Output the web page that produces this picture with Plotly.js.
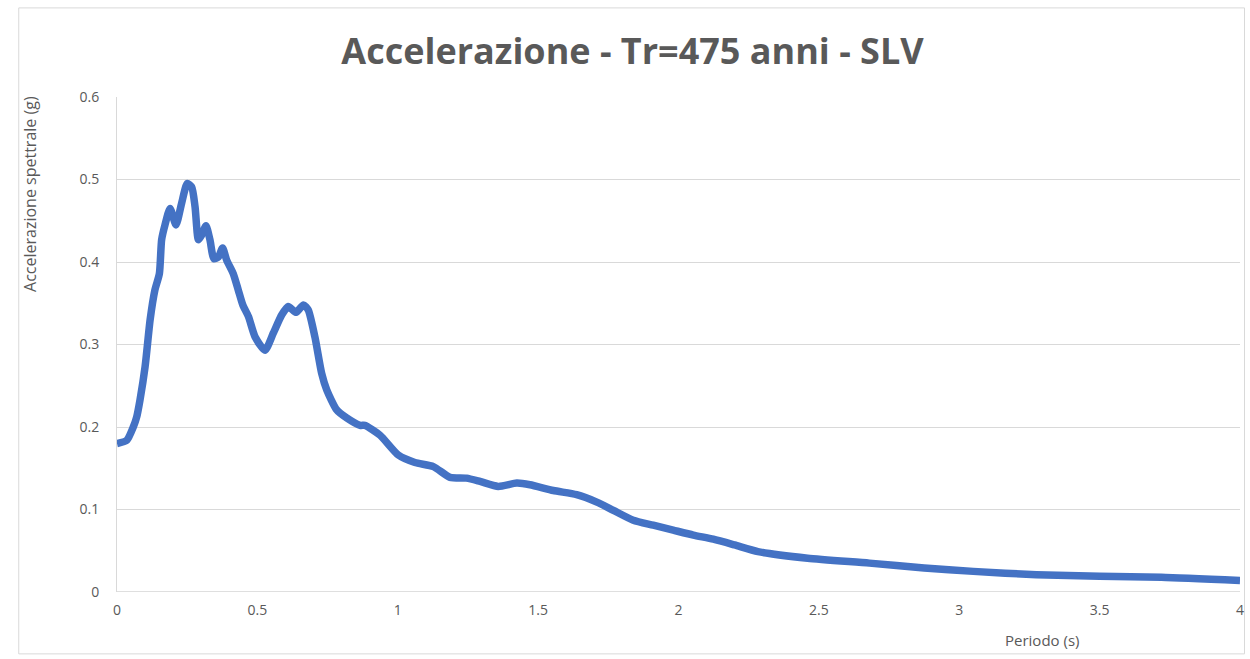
<!DOCTYPE html>
<html>
<head>
<meta charset="utf-8">
<script src="https://cdn.plot.ly/plotly-3.0.1.min.js"></script>
<style>
html,body{margin:0;padding:0;background:#fff;}
#chart{width:1250px;height:659px;}
</style>
</head>
<body>
<div id="chart"></div>
<script>
const periodo = [0, 0.035, 0.058, 0.07, 0.082, 0.10, 0.118, 0.135, 0.151, 0.159, 0.171, 0.189, 0.21, 0.23, 0.25, 0.266, 0.278, 0.29, 0.302, 0.317, 0.331, 0.345, 0.361, 0.376, 0.391, 0.414, 0.432, 0.448, 0.468, 0.492, 0.527, 0.557, 0.587, 0.61, 0.638, 0.664, 0.681, 0.705, 0.729, 0.747, 0.782, 0.818, 0.866, 0.883, 0.937, 1.002, 1.061, 1.127, 1.186, 1.245, 1.293, 1.358, 1.424, 1.471, 1.554, 1.637, 1.709, 1.768, 1.839, 1.91, 1.981, 2.053, 2.124, 2.2, 2.283, 2.46, 2.68, 2.875, 3.05, 3.275, 3.5, 3.72, 4.0];
const accelerazione = [0.18, 0.184, 0.20, 0.212, 0.233, 0.273, 0.33, 0.366, 0.386, 0.427, 0.445, 0.465, 0.445, 0.471, 0.495, 0.491, 0.467, 0.427, 0.433, 0.444, 0.427, 0.404, 0.406, 0.417, 0.402, 0.386, 0.366, 0.348, 0.334, 0.309, 0.293, 0.314, 0.336, 0.346, 0.339, 0.348, 0.342, 0.309, 0.265, 0.245, 0.221, 0.211, 0.202, 0.202, 0.19, 0.166, 0.157, 0.152, 0.139, 0.138, 0.134, 0.128, 0.132, 0.130, 0.123, 0.118, 0.109, 0.099, 0.087, 0.081, 0.075, 0.069, 0.064, 0.057, 0.049, 0.041, 0.035, 0.029, 0.025, 0.021, 0.019, 0.018, 0.014];
const xTicks = [0, 0.5, 1, 1.5, 2, 2.5, 3, 3.5, 4];
const yTicks = [0, 0.1, 0.2, 0.3, 0.4, 0.5, 0.6];

const FONT = '"Open Sans", "Liberation Sans", sans-serif';
const trace = {
  x: periodo, y: accelerazione, type: 'scatter', mode: 'lines',
  line: {color: '#4472C4', width: 7.5, shape: 'spline', smoothing: 0.6},
  hoverinfo: 'skip'
};
const layout = {
  width: 1250, height: 659,
  margin: {l: 117, r: 10, t: 97, b: 67},
  paper_bgcolor: '#ffffff', plot_bgcolor: '#ffffff',
  showlegend: false,
  font: {family: FONT, color: '#595959', size: 14},
  title: {text: '<b>Accelerazione - Tr=475 anni - SLV</b>', x: 0.506, xanchor: 'center', y: 0.922, yanchor: 'middle',
          font: {family: FONT, size: 36, color: '#595959'}},
  xaxis: {range: [0, 4], tickvals: xTicks, ticktext: xTicks.map(String), showgrid: false, zeroline: false,
          showline: false, ticks: '', ticklabelstandoff: 8, tickfont: {size: 14, color: '#595959'}},
  yaxis: {range: [0, 0.6], tickvals: yTicks, ticktext: yTicks.map(String), showgrid: true, gridcolor: '#d9d9d9', gridwidth: 1,
          zeroline: false, showline: true, linecolor: '#d9d9d9', linewidth: 1, ticks: '', ticklabelstandoff: 14,
          tickfont: {size: 14, color: '#595959'}},
  shapes: [
    {type: 'line', xref: 'paper', yref: 'y', x0: 0, x1: 1, y0: 0, y1: 0, line: {color: '#bfbfbf', width: 1}, layer: 'below'},
    {type: 'rect', xref: 'paper', yref: 'paper', x0: -0.0875, x1: 1.004, y0: -0.125, y1: 1.18, line: {color: '#d9d9d9', width: 1}, layer: 'below'}
  ],
  annotations: [
    {text: 'Periodo (s)', xref: 'paper', yref: 'paper', x: 0.824, y: -0.097, xanchor: 'center', yanchor: 'middle', showarrow: false,
     font: {size: 15, color: '#595959'}},
    {text: 'Accelerazione spettrale (g)', xref: 'paper', yref: 'paper', x: -0.078, y: 0.805, xanchor: 'center', yanchor: 'middle',
     textangle: -90, showarrow: false, font: {size: 16, color: '#595959'}}
  ]
};
Plotly.newPlot('chart', [trace], layout, {displayModeBar: false, staticPlot: true});
</script>
</body>
</html>
